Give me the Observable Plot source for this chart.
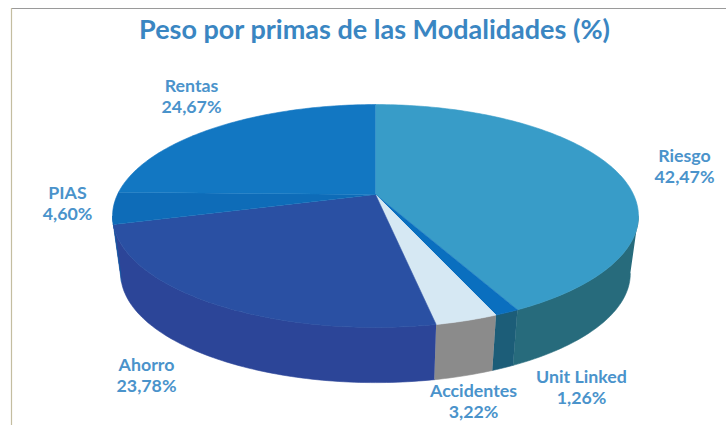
<!DOCTYPE html>
<html>
<head>
<meta charset="utf-8">
<script src="https://cdn.jsdelivr.net/npm/d3@7"></script>
<script src="https://cdn.jsdelivr.net/npm/@observablehq/plot@0.6"></script>
<style>
html,body{margin:0;padding:0;background:#fff;overflow:hidden}
svg{display:block}
</style>
</head>
<body>
<div id="chart"></div>
<script>
const categories = ["Riesgo","Unit Linked","Accidentes","Ahorro","PIAS","Rentas"];
const shares = [42.47,1.26,3.22,23.78,4.60,24.67];
const shareLabels = ["42,47%","1,26%","3,22%","23,78%","4,60%","24,67%"];
const topColors = ["#389cc8","#0a6fbf","#d6e8f3","#2a50a3","#0e6cb8","#1277c2"];
const sideColors = ["#276b7c","#1c5d78","#8b8b8b","#2c4598","#0e5ca5","#0e5ca5"];
const titleText = "Peso por primas de las Modalidades (%)";

// label centres in the picture's coordinate space
const labelX = [684,581,473,146,67,191];
const labelY = [165,386,400,374,202,95];

// Excel-style perspective projection of the pie disc
const cx = 375, k = 0.193;
const topDisc = {a:258, b:107.3, c:194};
const baseDisc = {a:250, b:105, c:252};
const project = (disc, deg) => {
  const t = deg * Math.PI / 180, X = Math.sin(t), Y = -Math.cos(t), w = 1 - k * Y;
  return {x: cx + disc.a * X / w, y: disc.c + disc.b * Y / w};
};
const sweep = (from, to) => {
  const n = Math.max(2, Math.ceil(Math.abs(to - from)));
  return d3.range(n + 1).map(i => from + (to - from) * i / n);
};

const ends = d3.cumsum(shares).map(v => v * 3.6);
const slices = categories.map((name, i) => ({
  name, i, from: i ? ends[i - 1] : 0, to: ends[i]
}));

// visible flank of the cylinder runs between the two silhouette angles
const visFrom = Math.acos(-k) * 180 / Math.PI, visTo = 360 - visFrom;

const sideMarks = slices.map(s => {
  const a = Math.max(s.from, visFrom), b = Math.min(s.to, visTo);
  if (b <= a) return null;
  const pts = [
    ...sweep(a, b).map(d => project(topDisc, d)),
    ...sweep(b, a).map(d => project(baseDisc, d))
  ];
  return Plot.line(pts, {x:"x", y:"y", fill:sideColors[s.i], stroke:sideColors[s.i], strokeWidth:0.6});
}).filter(Boolean);

const topMarks = slices.map(s => {
  const pts = [{x:cx, y:topDisc.c}, ...sweep(s.from, s.to).map(d => project(topDisc, d))];
  return Plot.line(pts, {x:"x", y:"y", fill:topColors[s.i], stroke:topColors[s.i], strokeWidth:0.6});
});

const labelRows = categories.map((name, i) => ({
  text: name + "\n" + shareLabels[i], x: labelX[i], y: labelY[i]
}));

const chart = Plot.plot({
  width: 726, height: 425,
  margin: 0,
  style: {background:"#fff"},
  x: {domain:[0,726], range:[0,726], axis:null},
  y: {domain:[0,425], range:[0,425], axis:null},
  marks: [
    Plot.ruleY([8], {x1:11, x2:726, stroke:"#9a9a9a", strokeWidth:1}),
    Plot.ruleX([11], {y1:8, y2:425, stroke:"#c4bda0", strokeWidth:1.2}),
    ...sideMarks,
    ...topMarks,
    Plot.text([titleText], {
      x:()=>374, y:()=>30, text:d=>d, fontFamily:"Lato", fontWeight:700,
      fontSize:27, fill:"#3a86c2"
    }),
    Plot.text(labelRows, {
      x:"x", y:"y", text:"text", fontFamily:"Lato", fontWeight:700,
      fontSize:17.8, lineHeight:1.22, fill:"#4a93cb"
    })
  ]
});
document.getElementById("chart").append(chart);
</script>
</body>
</html>
